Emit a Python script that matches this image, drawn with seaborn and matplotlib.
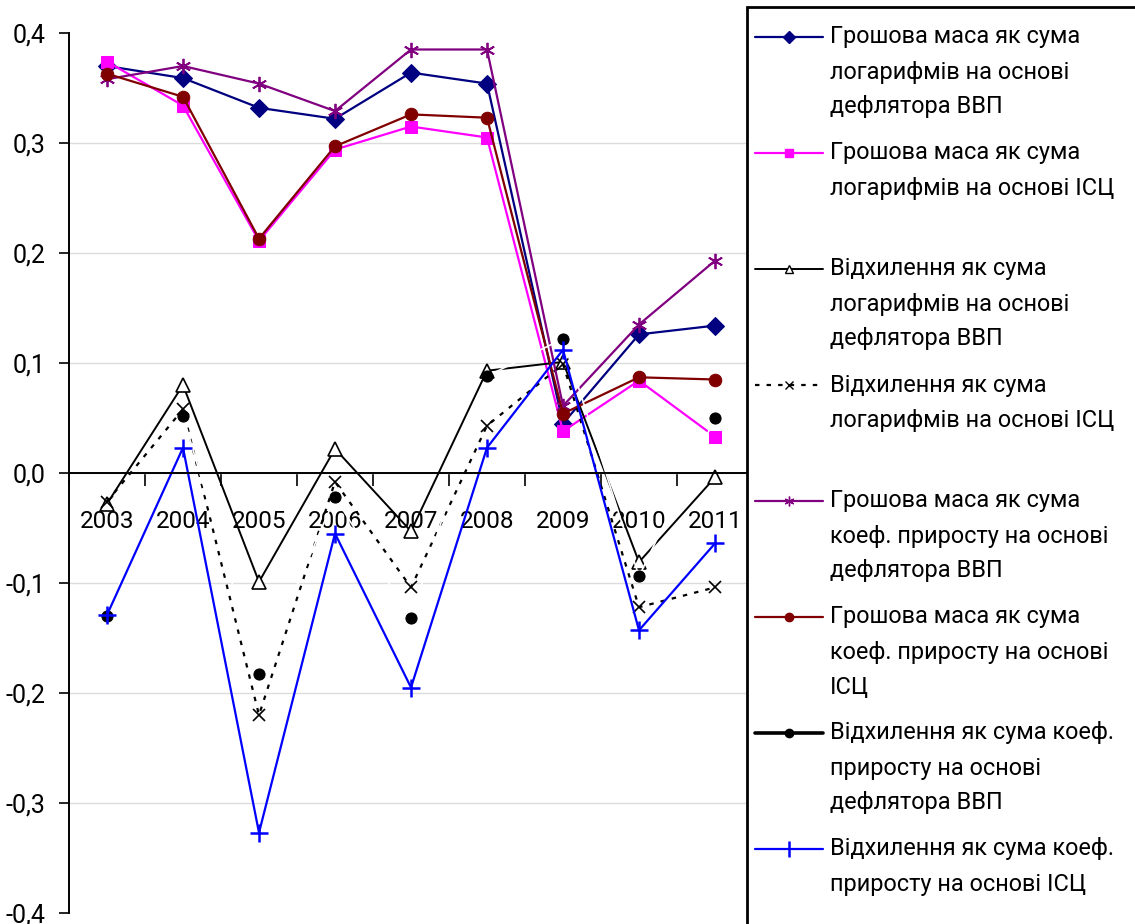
import matplotlib
matplotlib.use("Agg")
import matplotlib.pyplot as plt
import matplotlib.ticker as mticker
from matplotlib.lines import Line2D
from matplotlib.patches import Rectangle
import pandas as pd
import seaborn as sns

# ---- data -------------------------------------------------------------
years = [2003, 2004, 2005, 2006, 2007, 2008, 2009, 2010, 2011]

money_log_gdp = [0.370, 0.359, 0.332, 0.322, 0.364, 0.354, 0.045, 0.126, 0.134]
money_log_cpi = [0.374, 0.334, 0.211, 0.294, 0.315, 0.305, 0.038, 0.084, 0.033]
dev_log_gdp = [-0.028, 0.080, -0.099, 0.022, -0.053, 0.093, 0.101, -0.081, -0.004]
dev_log_cpi = [-0.026, 0.058, -0.220, -0.008, -0.104, 0.043, 0.099, -0.122, -0.104]
money_gr_gdp = [0.358, 0.370, 0.354, 0.329, 0.385, 0.385, 0.061, 0.135, 0.193]
money_gr_cpi = [0.363, 0.342, 0.213, 0.297, 0.326, 0.323, 0.054, 0.087, 0.085]
dev_gr_gdp = [-0.130, 0.052, -0.183, -0.022, -0.132, 0.088, 0.122, -0.094, 0.050]
dev_gr_cpi = [-0.129, 0.023, -0.327, -0.055, -0.195, 0.023, 0.112, -0.143, -0.064]

labels = [
    "Грошова маса як сума\nлогарифмів на основі\nдефлятора ВВП",
    "Грошова маса як сума\nлогарифмів на основі ІСЦ\n",
    "Відхилення як сума\nлогарифмів на основі\nдефлятора ВВП",
    "Відхилення як сума\nлогарифмів на основі ІСЦ\n",
    "Грошова маса як сума\nкоеф. приросту на основі\nдефлятора ВВП",
    "Грошова маса як сума\nкоеф. приросту на основі\nІСЦ",
    "Відхилення як сума коеф.\nприросту на основі\nдефлятора ВВП",
    "Відхилення як сума коеф.\nприросту на основі ІСЦ",
]

series_values = [money_log_gdp, money_log_cpi, dev_log_gdp, dev_log_cpi,
                 money_gr_gdp, money_gr_cpi, dev_gr_gdp, dev_gr_cpi]

# ---- styling per series --------------------------------------------------
styles = [
    dict(color="#000080", marker="D", markersize=9, linestyle="-", linewidth=1.6,
         markerfacecolor="#000080", markeredgecolor="#000080"),
    dict(color="#FF00FF", marker="s", markersize=9, linestyle="-", linewidth=1.6,
         markerfacecolor="#FF00FF", markeredgecolor="#FF00FF"),
    dict(color="black", marker="^", markersize=10, linestyle="-", linewidth=1.4,
         markerfacecolor="white", markeredgecolor="black", markeredgewidth=1.2),
    dict(color="black", marker="x", markersize=9, linestyle=(0, (2, 3.2)), linewidth=1.6,
         markeredgecolor="black", markeredgewidth=1.2),
    dict(color="#800080", marker=(6, 2, 0), markersize=11, linestyle="-", linewidth=1.6,
         markeredgecolor="#800080", markeredgewidth=1.3),
    dict(color="#800000", marker="o", markersize=9, linestyle="-", linewidth=1.6,
         markerfacecolor="#800000", markeredgecolor="#800000"),
    dict(color="white", marker="o", markersize=8, linestyle="-", linewidth=1.2,
         markerfacecolor="black", markeredgecolor="black"),
    dict(color="#0000FF", marker="+", markersize=13, linestyle="-", linewidth=1.6,
         markeredgecolor="#0000FF", markeredgewidth=1.8),
]

# legend sample styles (line colour/width differ for the hidden-line series)
legend_styles = [
    dict(color="#000080", marker="D", markersize=6, linewidth=1.6),
    dict(color="#FF00FF", marker="s", markersize=6, linewidth=1.6),
    dict(color="black", marker="^", markersize=6, linewidth=1.4,
         markerfacecolor="white", markeredgecolor="black"),
    dict(color="black", marker="x", markersize=6, linewidth=1.6, linestyle=(0, (2, 3.2))),
    dict(color="#800080", marker=(6, 2, 0), markersize=7, linewidth=1.6),
    dict(color="#800000", marker="o", markersize=6, linewidth=1.6),
    dict(color="black", marker="o", markersize=6, linewidth=2.6),
    dict(color="#0000FF", marker="|", markersize=12, linewidth=1.6, markeredgewidth=1.8),
]

# ---- figure ---------------------------------------------------------------
sns.set_theme(style="white")
plt.rcParams["font.family"] = ["Roboto", "Liberation Sans", "DejaVu Sans"]

W, H = 1135, 924
fig = plt.figure(figsize=(W / 100, H / 100), dpi=100)
fig.patch.set_facecolor("white")

ax = fig.add_axes([69 / W, 11 / H, (753 - 69) / W, 880 / H])
ax.set_facecolor("white")

for vals, st in zip(series_values, styles):
    df = pd.DataFrame({"year": years, "value": vals})
    sns.lineplot(data=df, x="year", y="value", ax=ax, legend=False,
                 errorbar=None, sort=False, **st)

ax.set_xlim(years[0] - 0.5, years[-1] + 0.5)
ax.set_ylim(-0.4, 0.4)
ax.set_xlabel("")
ax.set_ylabel("")

# y axis
ax.yaxis.set_major_locator(mticker.MultipleLocator(0.1))
ax.yaxis.set_major_formatter(mticker.FuncFormatter(
    lambda v, p: f"{v + 0.0:.1f}".replace(".", ",").replace("-0,0", "0,0")))
ax.tick_params(axis="y", which="major", left=True, length=7, width=1.2,
               color="black", labelsize=18, pad=10, labelcolor="black")
ax.grid(axis="y", color="#dcdcdc", linewidth=1.0)
ax.grid(axis="x", visible=False)
for gl, tv in zip(ax.yaxis.get_gridlines(), ax.get_yticks()):
    if abs(abs(tv) - 0.4) < 1e-9:
        gl.set_visible(False)

# x axis drawn through zero, labels at categories, ticks at boundaries
ax.spines["bottom"].set_position(("data", 0))
ax.spines["bottom"].set_color("black")
ax.spines["bottom"].set_linewidth(1.4)
ax.spines["left"].set_color("black")
ax.spines["left"].set_linewidth(1.4)
ax.spines["top"].set_visible(False)
ax.spines["right"].set_visible(False)
ax.set_xticks(years)
ax.set_xticklabels([str(y) for y in years])
ax.set_xticks([y - 0.5 for y in years] + [years[-1] + 0.5], minor=True)
ax.tick_params(axis="x", which="major", bottom=True, length=0, labelsize=17.5,
               pad=27, labelcolor="black")
ax.tick_params(axis="x", which="minor", bottom=True, length=9, width=1.2,
               color="black", direction="out")
ax.set_zorder(1)

# ---- legend box --------------------------------------------------------------
box = Rectangle((747 / W, -0.05), 0.5, 1.05 - 7 / H, transform=fig.transFigure,
                facecolor="white", edgecolor="black", linewidth=2.0, zorder=5)
fig.add_artist(box)

y_px = 37.0
line_step = 35.0
entry_gap = 46.0
for lab, lst in zip(labels, legend_styles):
    yf = 1 - y_px / H
    kw = dict(lst)
    kw.setdefault("linestyle", "-")
    kw.setdefault("markerfacecolor", kw["color"])
    kw.setdefault("markeredgecolor", kw["color"])
    fig.add_artist(Line2D([755 / W, 823 / W], [yf, yf], transform=fig.transFigure,
                          zorder=6, **{k: v for k, v in kw.items() if k not in ("marker", "markersize", "markeredgewidth")}))
    fig.add_artist(Line2D([789 / W], [yf], transform=fig.transFigure, zorder=7,
                          linestyle="none",
                          **{k: v for k, v in kw.items() if k in ("marker", "markersize", "markerfacecolor",
                                                                  "markeredgecolor", "markeredgewidth", "color")}))
    lines = lab.split("\n")
    for i, ln in enumerate(lines):
        if ln:
            fig.text(830 / W, 1 - (y_px + i * line_step) / H, ln, fontsize=16.9,
                     ha="left", va="center", color="black", zorder=7)
    y_px += (len(lines) - 1) * line_step + entry_gap

fig.savefig("out.png", dpi=100, facecolor="white")
